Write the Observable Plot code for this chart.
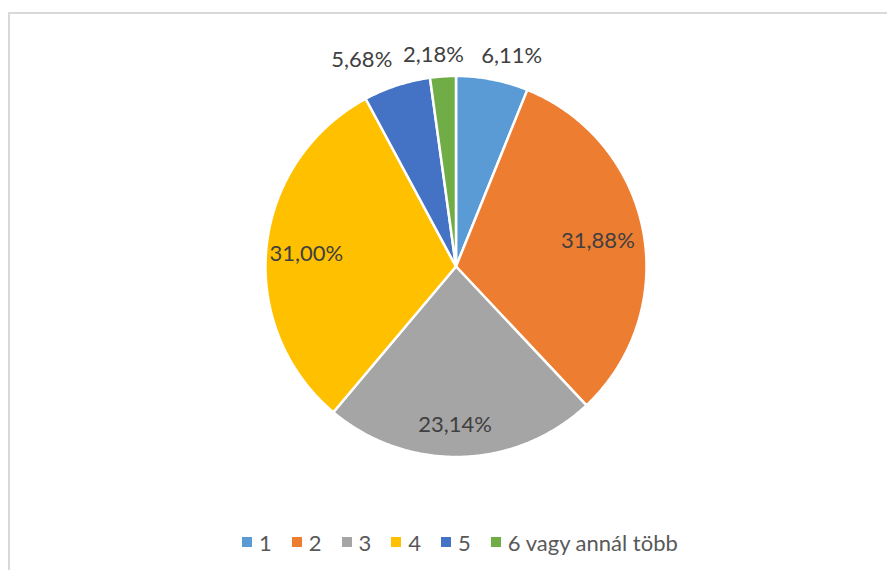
<!DOCTYPE html>
<html>
<head>
<meta charset="utf-8">
<script src="https://cdn.jsdelivr.net/npm/d3@7"></script>
<script src="https://cdn.jsdelivr.net/npm/@observablehq/plot@0.6"></script>
<style>
  html, body { margin: 0; padding: 0; background: #fff; overflow: hidden; }
  body { width: 887px; height: 570px; position: relative; font-family: Lato, "Open Sans", sans-serif; }
  #frame { position: absolute; left: 8px; top: 12px; width: 900px; height: 600px;
           border-top: 2px solid #d9d9d9; border-left: 2px solid #d9d9d9; box-sizing: border-box; }
  #chart { position: absolute; left: 0; top: 0; }
  #legend { position: absolute; left: 0; top: 527px; width: 887px; height: 30px;
            display: flex; justify-content: flex-start; align-items: center;
            font-size: 22px; color: #595959; padding-left: 242px; box-sizing: border-box; }
  .item { display: flex; align-items: center; margin-right: 20px; }
  .sw { width: 10px; height: 10px; margin-right: 7px; }
</style>
</head>
<body>
<div id="frame"></div>
<div id="chart"></div>
<div id="legend"></div>
<script>
const categories = ["1", "2", "3", "4", "5", "6 vagy annál több"];
const shares = [6.11, 31.88, 23.14, 31.00, 5.68, 2.18];
const colors = ["#5B9BD5", "#ED7D31", "#A5A5A5", "#FFC000", "#4472C4", "#70AD47"];

const fmt = v => d3.format(".2f")(v).replace(".", ",") + "%";

const arcs = d3.pie().sort(null).value(d => d)(shares);

// build slice outlines in unit space
const points = [];
arcs.forEach((a, i) => {
  const cat = categories[i];
  points.push({cat, x: 0, y: 0});
  const n = Math.max(2, Math.ceil((a.endAngle - a.startAngle) / (Math.PI / 360)));
  for (let k = 0; k <= n; k++) {
    const t = a.startAngle + (a.endAngle - a.startAngle) * k / n;
    points.push({cat, x: Math.sin(t), y: Math.cos(t)});
  }
  points.push({cat, x: 0, y: 0});
});

const labelData = arcs.map((a, i) => {
  const mid = (a.startAngle + a.endAngle) / 2;
  const r = shares[i] < 10 ? 1.12 : 0.79;
  return {cat: categories[i], text: fmt(shares[i]), x: r * Math.sin(mid), y: r * Math.cos(mid)};
});

const nudges = {
  "1": [15, -1], "2": [-6, 2], "3": [-5, 8], "4": [0, 3], "5": [-28, -4], "6 vagy annál több": [-8, 1]
};

const textMarks = categories.map(c => Plot.text(labelData.filter(d => d.cat === c), {
  x: "x", y: "y", text: "text", fill: "#404040", fontSize: 22,
  fontFamily: "Lato, 'Open Sans', sans-serif",
  dx: nudges[c][0], dy: nudges[c][1]
}));

const W = 887, H = 520;
const cx = 455.5, cy = 266, R = 190.5;

const chart = Plot.plot({
  width: W,
  height: H,
  marginLeft: cx - R,
  marginRight: W - (cx + R),
  marginTop: cy - R,
  marginBottom: H - (cy + R),
  x: {domain: [-1, 1], axis: null},
  y: {domain: [-1, 1], axis: null},
  color: {domain: categories, range: colors},
  style: {background: "transparent", overflow: "visible"},
  marks: [
    Plot.line(points, {x: "x", y: "y", z: "cat", fill: "cat", stroke: "white",
      strokeWidth: 2.5, strokeLinejoin: "round", curve: "linear-closed"}),
    ...textMarks
  ]
});
document.getElementById("chart").appendChild(chart);

const legend = document.getElementById("legend");
categories.forEach((c, i) => {
  const item = document.createElement("div");
  item.className = "item";
  const sw = document.createElement("div");
  sw.className = "sw";
  sw.style.background = colors[i];
  const t = document.createElement("span");
  t.textContent = c;
  item.appendChild(sw);
  item.appendChild(t);
  legend.appendChild(item);
});
</script>
</body>
</html>
